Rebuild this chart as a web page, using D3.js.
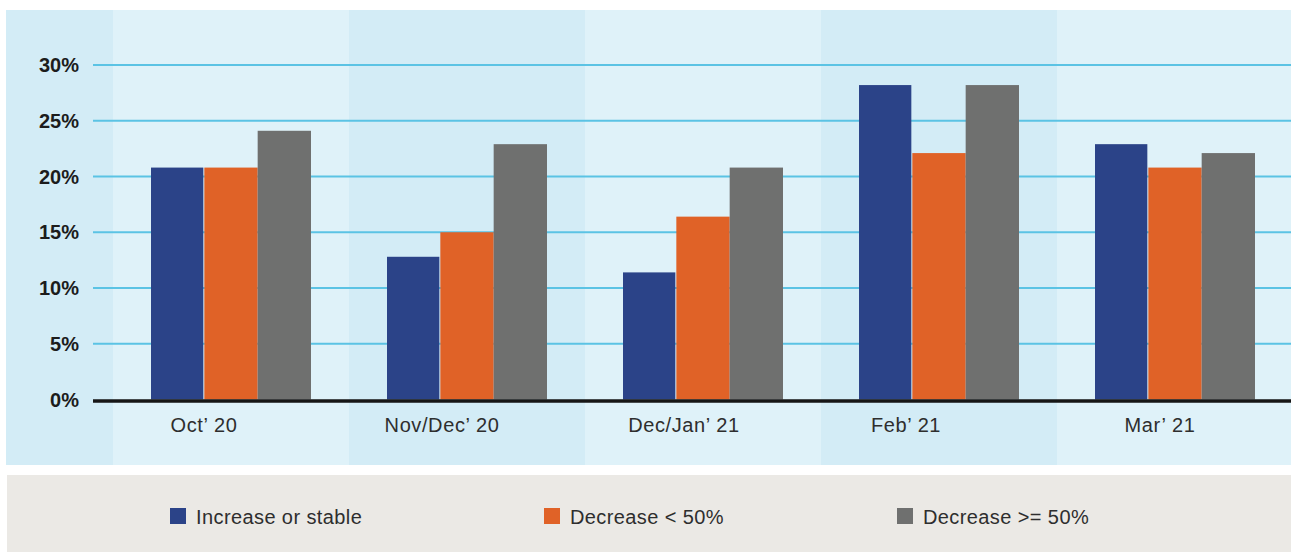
<!DOCTYPE html>
<html lang="en">
<head>
    <meta charset="UTF-8">
    <title>Chart</title>
    <script src="https://cdn.jsdelivr.net/npm/d3@7"></script>
    <style>
        body { margin: 0; background: white; }
        text { font-family: "Liberation Sans", Arial, sans-serif; }
        .grid line { stroke: #5bc3e4; stroke-width: 2; }
        .ylab { font-size: 20px; font-weight: bold; fill: #1c1c1c; }
        .xlab { font-size: 20px; fill: #2e2e2e; letter-spacing: 0.6px; }
        .leg { font-size: 20px; fill: #2e2e2e; letter-spacing: 0.4px; }
    </style>
</head>
<body>
<script>
    const categories = ["Oct\u2019 20", "Nov/Dec\u2019 20", "Dec/Jan\u2019 21", "Feb\u2019 21", "Mar\u2019 21"];
    const seriesNames = ["Increase or stable", "Decrease < 50%", "Decrease >= 50%"];
    const increaseOrStable = [20.8, 12.8, 11.4, 28.2, 22.9];
    const decreaseUnder50 = [20.8, 15.0, 16.4, 22.1, 20.8];
    const decreaseOver50 = [24.1, 22.9, 20.8, 28.2, 22.1];
    const yTicks = [0, 5, 10, 15, 20, 25, 30];

    const series = [increaseOrStable, decreaseUnder50, decreaseOver50];
    const colors = ["#2b4388", "#e06227", "#6f706f"];

    const width = 1292, height = 552;

    const svg = d3.select("body")
                  .append("svg")
                  .attr("width", width)
                  .attr("height", height);

    // chart panel background
    svg.append("rect")
       .attr("x", 6).attr("y", 10)
       .attr("width", 1285).attr("height", 455)
       .attr("fill", "#d3ecf6");

    const x = d3.scaleBand().domain(categories).range([113, 1293]);
    const xs = d3.scaleBand().domain(d3.range(series.length)).range([38, 198]);
    const y = d3.scaleLinear().domain([0, 30]).range([399.5, 65]);

    // alternating column bands
    svg.append("g")
       .selectAll("rect")
       .data(categories)
       .join("rect")
       .attr("x", d => x(d))
       .attr("y", 10)
       .attr("width", d => Math.min(x.bandwidth(), 1291 - x(d)))
       .attr("height", 455)
       .attr("fill", (d, i) => i % 2 === 0 ? "#dff2f9" : "#d3ecf6");

    // gridlines
    svg.append("g").attr("class", "grid")
       .selectAll("line")
       .data(yTicks.slice(1))
       .join("line")
       .attr("x1", 93).attr("x2", 1291)
       .attr("y1", d => y(d)).attr("y2", d => y(d));

    // y labels
    svg.append("g")
       .selectAll("text")
       .data(yTicks)
       .join("text").attr("class", "ylab")
       .attr("x", 79)
       .attr("y", d => y(d) + 7)
       .attr("text-anchor", "end")
       .text(d => d + "%");

    // bars
    const groups = svg.append("g")
       .selectAll("g")
       .data(series)
       .join("g")
       .attr("fill", (d, i) => colors[i]);

    groups.selectAll("rect")
       .data((vals, si) => vals.map((v, ci) => ({ v, si, c: categories[ci] })))
       .join("rect")
       .attr("x", d => x(d.c) + xs(d.si))
       .attr("y", d => y(d.v))
       .attr("width", d => d.si === 0 ? xs.bandwidth() - 1 : xs.bandwidth())
       .attr("height", d => y(0) - y(d.v));

    // baseline
    svg.append("line")
       .attr("x1", 93).attr("x2", 1291)
       .attr("y1", y(0) + 1.5).attr("y2", y(0) + 1.5)
       .attr("stroke", "#161616").attr("stroke-width", 3.5);

    // x labels (the original labels sit a little left of the column centre)
    const labelShift = [-27, -25, -19, -33, -15];
    svg.append("g")
       .selectAll("text")
       .data(categories)
       .join("text").attr("class", "xlab")
       .attr("x", (d, i) => x(d) + x.bandwidth() / 2 + labelShift[i])
       .attr("y", 432)
       .attr("text-anchor", "middle")
       .text(d => d);

    // legend
    svg.append("rect")
       .attr("x", 7).attr("y", 475)
       .attr("width", 1284).attr("height", 77)
       .attr("fill", "#ebe9e5");

    const legendX = [170, 544, 897];
    const leg = svg.append("g")
       .selectAll("g")
       .data(seriesNames)
       .join("g")
       .attr("transform", (d, i) => `translate(${legendX[i]},508)`);

    leg.append("rect")
       .attr("width", 16).attr("height", 16)
       .attr("fill", (d, i) => colors[i]);

    leg.append("text").attr("class", "leg")
       .attr("x", 26).attr("y", 16)
       .text(d => d);
</script>
</body>
</html>
